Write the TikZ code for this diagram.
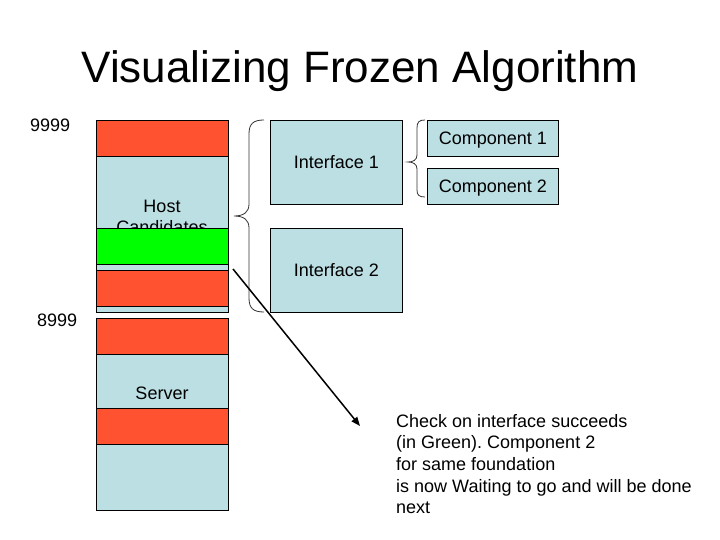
\documentclass[tikz,border=0pt]{standalone}
\usepackage{fontspec}
\setmainfont{Liberation Sans}
\usetikzlibrary{arrows.meta}
\frenchspacing
\definecolor{redseg}{HTML}{FF5230}
\definecolor{bluebox}{HTML}{BBDFE3}
\definecolor{greenseg}{HTML}{00FF00}
\tikzset{
  seg/.style={draw=black, line width=0.9pt, minimum width=132pt, inner sep=0pt, anchor=north west},
  ibox/.style={draw=black, line width=0.9pt, fill=bluebox, inner sep=0pt, anchor=north west, text depth=0pt, font=\fontsize{18}{21.6}\selectfont},
  lbl/.style={inner sep=0pt, anchor=base, font=\fontsize{18}{21.6}\selectfont},
  brace/.style={draw=black!80, line width=0.8pt},
  pointer/.style={draw=black, line width=1.5pt, -{Triangle[length=9pt,width=7pt]}}
}
\begin{document}
\begin{tikzpicture}[x=1pt,y=-1pt]
\useasboundingbox (0,0) rectangle (720,540);
% title
\node[inner sep=0pt, anchor=base, font=\fontsize{44}{52}\selectfont] (title) at (360,83) {Visualizing Frozen Algorithm};
% address labels
\node[lbl, anchor=base west] (n9999) at (30,132) {9999};
\node[lbl, anchor=base west] (n8999) at (37,326) {8999};
% left stack
\node[seg, fill=redseg, minimum height=36pt] (r1) at (96,120) {};
\node[seg, fill=bluebox, minimum height=72pt] (host) at (96,156) {};
\node[lbl] (hostA) at (162,212) {Host};
\node[lbl] (hostB) at (162,233.6) {Candidates};
\node[seg, fill=greenseg, minimum height=36pt] (g1) at (96,228) {};
\node[seg, fill=bluebox, minimum height=6pt] (b2) at (96,264) {};
\node[seg, fill=redseg, minimum height=36pt] (r2) at (96,270) {};
\node[seg, fill=bluebox, minimum height=6pt] (b3) at (96,306) {};
\node[seg, fill=redseg, minimum height=36pt] (r3) at (96,318) {};
\node[seg, fill=bluebox, minimum height=54pt] (srv) at (96,354) {};
\node[lbl] (srvlbl) at (162,399) {Server};
\node[seg, fill=redseg, minimum height=36pt] (r4) at (96,408) {};
\node[seg, fill=bluebox, minimum height=66pt] (b4) at (96,444) {};
% interfaces
\node[ibox, minimum width=132pt, minimum height=84pt] (if1) at (270,120) {Interface 1};
\node[ibox, minimum width=132pt, minimum height=84pt] (if2) at (270,228) {Interface 2};
% components
\node[ibox, minimum width=131pt, minimum height=36pt] (c1) at (427,120) {Component 1};
\node[ibox, minimum width=131pt, minimum height=36pt] (c2) at (427,168) {Component 2};
% braces
\draw[brace] (264,120) .. controls (253,120) and (249,124) .. (249,134) -- (249,204)
  .. controls (249,212) and (244,216) .. (234,216)
  .. controls (244,216) and (249,220) .. (249,228) -- (249,298)
  .. controls (249,308) and (253,312) .. (264,312);
\draw[brace] (425,120) .. controls (419,120) and (417,122) .. (417,128) -- (417,155)
  .. controls (417,160) and (413,162) .. (408,162)
  .. controls (413,162) and (417,164) .. (417,169) -- (417,190)
  .. controls (417,195) and (419,197) .. (425,197);
% arrow
\coordinate (astart) at (233,269);
\coordinate (aend) at (360,426);
\draw[pointer] (astart) -- (aend);
% note
\node[inner sep=0pt, anchor=north west, align=left, font=\fontsize{18}{21.6}\selectfont] (note) at (396,414)
  {Check on interface succeeds\\(in Green). Component 2\\for same foundation\\is now Waiting to go and will be done\\next};
\end{tikzpicture}
\end{document}
